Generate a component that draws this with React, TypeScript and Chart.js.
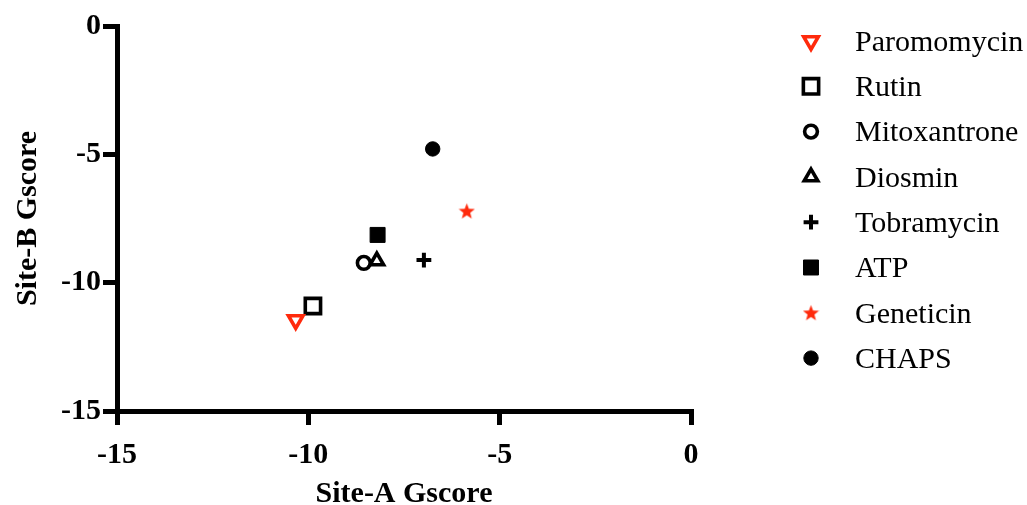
import React, { useEffect, useRef } from "react";
import { Chart, registerables } from "chart.js";
import { drawPoint } from "chart.js/helpers";

Chart.register(...registerables);

const compounds = ["Paromomycin", "Rutin", "Mitoxantrone", "Diosmin", "Tobramycin", "ATP", "Geneticin", "CHAPS"];
const siteAGscore = [-10.33, -9.88, -8.55, -8.21, -6.98, -8.19, -5.86, -6.75];
const siteBGscore = [-11.45, -10.91, -9.23, -9.15, -9.12, -8.14, -7.21, -4.79];
const axisTicks = [-15, -10, -5, 0];

const RED = "#ff2a0c";
const BLACK = "#000000";
const FONT = "'Liberation Serif', 'Times New Roman', serif";

function makeStar(size: number, color: string): HTMLCanvasElement {
  const c = document.createElement("canvas");
  c.width = size;
  c.height = size;
  const ctx = c.getContext("2d")!;
  const cx = size / 2;
  const cy = size / 2 + size * 0.04;
  const R = size / 2;
  const r = R * 0.42;
  ctx.beginPath();
  for (let i = 0; i < 10; i++) {
    const rad = i % 2 === 0 ? R : r;
    const a = -Math.PI / 2 + (i * Math.PI) / 5;
    const x = cx + rad * Math.cos(a);
    const y = cy + rad * Math.sin(a);
    if (i === 0) ctx.moveTo(x, y);
    else ctx.lineTo(x, y);
  }
  ctx.closePath();
  ctx.fillStyle = color;
  ctx.fill();
  return c;
}

type Style = { pointStyle: any; radius: number; rotation: number; border: string; fill: string; bw: number };

function buildStyles(): Style[] {
  const star = makeStar(17, RED);
  return [
    { pointStyle: "triangle", radius: 8.4, rotation: 180, border: RED, fill: "rgba(0,0,0,0)", bw: 3.6 },
    { pointStyle: "rect", radius: 10.8, rotation: 0, border: BLACK, fill: "rgba(0,0,0,0)", bw: 3.6 },
    { pointStyle: "circle", radius: 6.4, rotation: 0, border: BLACK, fill: "rgba(0,0,0,0)", bw: 3.6 },
    { pointStyle: "triangle", radius: 7.8, rotation: 0, border: BLACK, fill: "rgba(0,0,0,0)", bw: 3.6 },
    { pointStyle: "cross", radius: 7.4, rotation: 0, border: BLACK, fill: BLACK, bw: 4 },
    { pointStyle: "rect", radius: 10.6, rotation: 0, border: BLACK, fill: BLACK, bw: 1 },
    { pointStyle: star, radius: 8, rotation: 0, border: RED, fill: RED, bw: 0 },
    { pointStyle: "circle", radius: 7.2, rotation: 0, border: BLACK, fill: BLACK, bw: 1 },
  ];
}

const legendPlugin = {
  id: "sideLegend",
  afterDraw(chart: any) {
    const ctx = chart.ctx;
    const ds = chart.data.datasets;
    const startY = 41;
    const step = 45.3;
    const markerX = 811;
    const textX = 855;
    ctx.save();
    ds.forEach((d: any, i: number) => {
      const y = startY + i * step;
      ctx.save();
      ctx.strokeStyle = d.borderColor;
      ctx.fillStyle = d.backgroundColor;
      ctx.lineWidth = d.borderWidth;
      drawPoint(ctx, { pointStyle: d.pointStyle, rotation: d.rotation, radius: d.pointRadius, borderWidth: d.borderWidth }, markerX, y);
      ctx.restore();
      ctx.fillStyle = "#000";
      ctx.font = `30px ${FONT}`;
      ctx.textBaseline = "middle";
      ctx.textAlign = "left";
      ctx.fillText(d.label, textX, y + 2);
    });
    ctx.restore();
  },
};

export default function App() {
  const ref = useRef<HTMLCanvasElement | null>(null);
  useEffect(() => {
    if (!ref.current) return;
    const styles = buildStyles();
    const datasets = compounds.map((name, i) => ({
      label: name,
      data: [{ x: siteAGscore[i], y: siteBGscore[i] }],
      pointStyle: styles[i].pointStyle,
      pointRadius: styles[i].radius,
      pointHoverRadius: styles[i].radius,
      rotation: styles[i].rotation,
      borderColor: styles[i].border,
      backgroundColor: styles[i].fill,
      borderWidth: styles[i].bw,
      showLine: false,
    }));
    const tickFont = { family: FONT, size: 30, weight: "bold" as const, lineHeight: 1 };
    const chart = new Chart(ref.current, {
      type: "scatter",
      data: { datasets },
      plugins: [legendPlugin],
      options: {
        animation: false,
        responsive: true,
        maintainAspectRatio: false,
        clip: false as any,
        layout: { padding: { left: 0, top: 26, right: 336, bottom: 0 } },
        plugins: { legend: { display: false }, tooltip: { enabled: false } },
        scales: {
          x: {
            type: "linear",
            min: -15,
            max: 0,
            afterBuildTicks: (s: any) => {
              s.ticks = axisTicks.map((v) => ({ value: v }));
            },
            afterFit: (s: any) => {
              s.height = 94;
            },
            border: { display: true, color: BLACK, width: 5 },
            grid: { display: true, drawOnChartArea: false, drawTicks: true, tickLength: 14, tickWidth: 5, tickColor: BLACK, lineWidth: 5, color: BLACK },
            ticks: { color: BLACK, font: tickFont, padding: 15, maxRotation: 0, autoSkip: false },
            title: { display: true, text: "Site-A Gscore", color: BLACK, font: { family: FONT, size: 30, weight: "bold", lineHeight: 0.75 }, padding: { top: 0, bottom: 0 } },
          },
          y: {
            type: "linear",
            min: -15,
            max: 0,
            afterBuildTicks: (s: any) => {
              s.ticks = axisTicks.map((v) => ({ value: v }));
            },
            afterFit: (s: any) => {
              s.width = 117;
            },
            border: { display: true, color: BLACK, width: 5 },
            grid: { display: true, drawOnChartArea: false, drawTicks: true, tickLength: 14, tickWidth: 5, tickColor: BLACK, lineWidth: 5, color: BLACK },
            ticks: { color: BLACK, font: tickFont, padding: 2, autoSkip: false },
            title: { display: true, text: "Site-B Gscore", color: BLACK, font: { family: FONT, size: 30, weight: "bold", lineHeight: 1 }, padding: { top: 13, bottom: 0 } },
          },
        },
      },
    });
    return () => chart.destroy();
  }, []);
  return (
    <div style={{ position: "absolute", left: 0, top: 0, width: 1027, height: 505, background: "#fff" }}>
      <canvas ref={ref} />
    </div>
  );
}
